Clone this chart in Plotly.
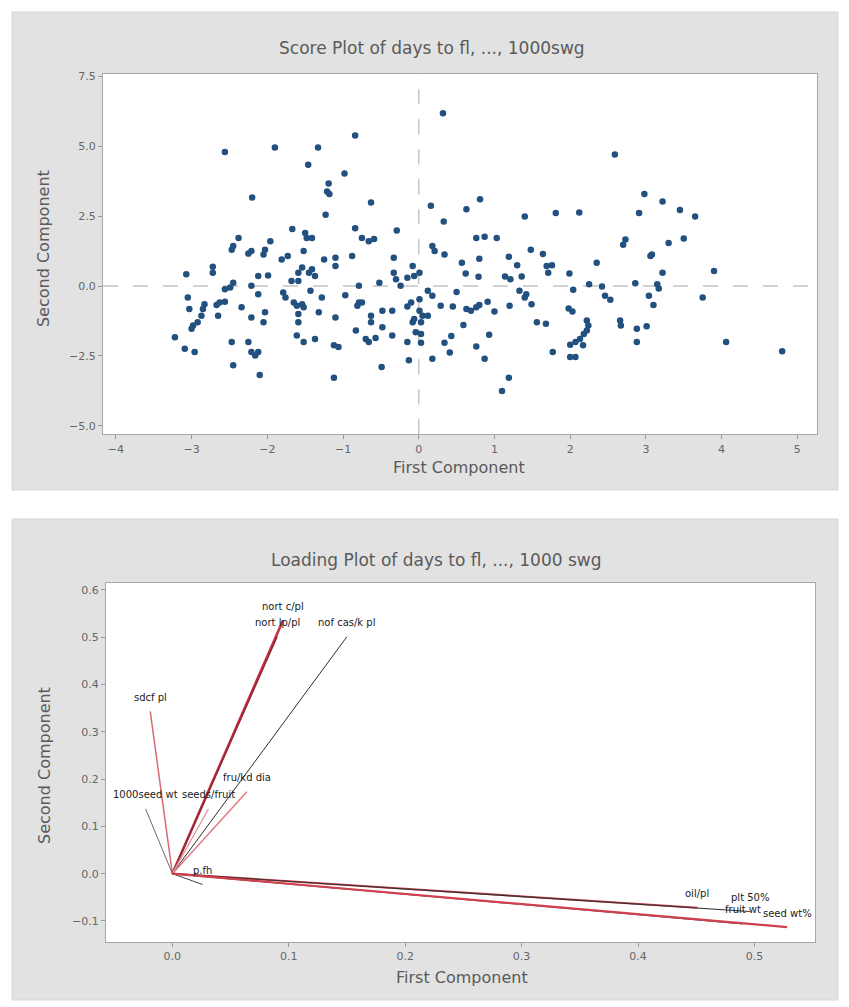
import plotly.graph_objects as go

W, H = 849, 1007      # browser window
OFF = 8               # default page body margin
FW, FH = W - OFF, H - OFF

# ---------------- data ----------------
score_pc1 = [
    -2.56, -1.90, -1.33, -0.84, -1.46, -0.98, -1.19, -1.21, -1.18, -2.20, -0.63, 0.16, -1.23, -0.84, -0.29,
    -1.67, -1.50, -1.41, -1.48, -2.38, -2.45, -2.47, -1.96, -2.03, -2.05, -2.21, -2.25, -0.75, -0.66, -0.59,
    0.18, 0.21, -1.52, -1.73, -1.81, -1.10, -1.10, -0.88, -1.25, -0.33, -2.72, -2.72, -3.07, -1.54, -1.41,
    -1.37, -1.45, -1.59, -2.12, -1.99, -0.08, 0.01, -0.06, -0.15, -0.33, -0.30, -0.24, -2.45, -2.49, -2.56,
    -2.21, -1.68, -1.59, -1.43, -0.52, -0.79, -1.79, -1.76, -2.12, -3.05, -1.28, -0.97, 0.12, 0.18, 0.01,
    -0.10, -0.15, -2.63, -2.56, -2.67, -2.83, -2.85, -2.87, -3.03, -2.34, -1.65, -1.54, -1.52, -1.61, -0.79,
    -0.75, -0.81, -0.48, -0.35, 0.01, 0.05, 0.12, -0.06, -0.08, 0.03, -2.03, -2.05, -2.21, -2.65, -1.59,
    -1.59, -1.32, -1.10, -0.63, -0.63, -2.92, -2.98, -3.00, -0.48, -0.35, -0.83, -0.70, -0.66, -0.57, -0.04,
    0.03, -0.15, 0.03, -3.22, -1.61, -1.52, -1.37, -2.47, -2.25, -1.12, -1.06, -3.09, -2.96, -2.21, -2.16,
    -2.12, 0.18, -0.13, -2.45, -2.10, -1.12, -0.49,
    0.32, 2.59, 2.98, 3.22, 3.45, 3.65, 2.91, 0.81, 0.63, 1.40, 1.81, 2.12, 0.33, 0.76, 0.87,
    1.03, 2.73, 2.70, 3.30, 3.50, 3.08, 3.06, 0.34, 0.80, 0.57, 1.19, 1.30, 1.48, 1.64, 2.35,
    1.69, 1.76, 1.71, 0.62, 0.79, 1.14, 1.21, 1.36, 1.99, 3.22, 3.90, 2.25, 2.42, 2.86, 3.15,
    3.17, 1.33, 1.42, 1.40, 2.04, 0.50, 2.46, 2.53, 3.04, 3.75, 0.29, 0.45, 0.63, 0.69, 0.76,
    0.80, 0.91, 1.00, 1.20, 1.49, 1.98, 2.03, 3.10, 2.22, 2.24, 2.22, 2.18, 2.13, 2.07, 2.00,
    2.17, 1.56, 1.68, 2.66, 2.67, 2.88, 3.01, 0.59, 0.93, 0.43, 0.34, 0.41, 0.76, 2.88, 4.06,
    1.77, 2.00, 2.07, 0.87, 1.19, 1.10, 4.80,
]
score_pc2 = [
    4.79, 4.95, 4.95, 5.38, 4.34, 4.02, 3.67, 3.38, 3.29, 3.17, 2.99, 2.87, 2.55, 2.07, 1.99,
    2.04, 1.90, 1.72, 1.72, 1.72, 1.43, 1.30, 1.60, 1.30, 1.13, 1.25, 1.16, 1.72, 1.60, 1.68,
    1.43, 1.25, 1.25, 1.07, 0.95, 1.01, 0.72, 1.07, 0.95, 1.01, 0.69, 0.48, 0.42, 0.66, 0.60,
    0.36, 0.48, 0.48, 0.36, 0.38, 0.72, 0.48, 0.36, 0.30, 0.48, 0.24, 0.01, 0.12, -0.05, -0.11,
    0.01, 0.18, 0.18, -0.17, 0.12, 0.01, -0.23, -0.41, -0.29, -0.41, -0.41, -0.33, -0.17, -0.35, -0.47,
    -0.59, -0.73, -0.59, -0.56, -0.68, -0.65, -0.82, -1.06, -0.82, -0.76, -0.59, -0.65, -0.76, -0.70, -0.59,
    -0.59, -0.70, -0.88, -0.88, -0.88, -1.06, -1.06, -1.18, -1.29, -1.29, -0.94, -1.29, -1.12, -1.06, -1.00,
    -1.29, -0.94, -1.12, -1.06, -1.29, -1.29, -1.41, -1.53, -1.47, -1.77, -1.59, -1.89, -2.00, -1.86, -1.65,
    -1.71, -2.00, -2.03, -1.83, -1.77, -2.00, -1.89, -2.00, -2.00, -2.12, -2.18, -2.24, -2.36, -2.36, -2.48,
    -2.36, -2.60, -2.65, -2.83, -3.18, -3.28, -2.89,
    6.18, 4.70, 3.29, 3.02, 2.72, 2.49, 2.61, 3.10, 2.75, 2.49, 2.61, 2.63, 2.31, 1.72, 1.76,
    1.72, 1.66, 1.48, 1.54, 1.70, 1.13, 1.07, 1.13, 0.98, 0.83, 1.05, 0.74, 1.30, 1.15, 0.83,
    0.72, 0.74, 0.48, 0.45, 0.33, 0.34, 0.24, 0.34, 0.45, 0.48, 0.54, 0.06, -0.02, 0.10, 0.06,
    -0.09, -0.17, -0.29, -0.41, -0.13, -0.21, -0.35, -0.49, -0.35, -0.41, -0.70, -0.73, -0.82, -0.88, -0.76,
    -0.68, -0.56, -0.91, -0.70, -0.65, -0.80, -0.91, -0.68, -1.23, -1.41, -1.59, -1.71, -1.89, -2.00, -2.10,
    -2.12, -1.29, -1.35, -1.23, -1.41, -1.53, -1.44, -1.39, -1.74, -1.79, -2.03, -2.38, -2.16, -2.00, -2.00,
    -2.36, -2.54, -2.54, -2.60, -3.28, -3.75, -2.33,
]

load_names = ["sdcf pl", "nort c/pl", "nort lp/pl", "nof cas/k pl", "fru/kd dia",
              "1000seed wt", "seeds/fruit", "p.fh", "oil/pl", "plt 50%", "fruit wt", "seed wt%"]
load_pc1 = [-0.019, 0.095, 0.090, 0.150, 0.064, -0.023, 0.031, 0.026, 0.451, 0.496, 0.490, 0.528]
load_pc2 = [0.343, 0.535, 0.501, 0.501, 0.173, 0.137, 0.137, -0.023, -0.072, -0.080, -0.106, -0.113]

score_xticks = [-4, -3, -2, -1, 0, 1, 2, 3, 4, 5]
score_yticks = [-5.0, -2.5, 0.0, 2.5, 5.0, 7.5]
load_xticks = [0.0, 0.1, 0.2, 0.3, 0.4, 0.5]
load_yticks = [-0.1, 0.0, 0.1, 0.2, 0.3, 0.4, 0.5, 0.6]

score_title = "Score Plot of days to fl, ..., 1000swg"
load_title = "Loading Plot of days to fl, ..., 1000 swg"

# ---------------- styles ----------------
line_colors = ["#d86a75", "#c8303f", "#8a2a34", "#2e2e2e", "#e07a85", "#6a6a6a",
               "#e59aa2", "#444444", "#d0404e", "#333333", "#333333", "#d0404e"]
line_widths = [1.5, 2.6, 1.4, 1.0, 1.5, 1.0, 1.3, 1.0, 2.0, 1.2, 1.3, 2.2]

FONT = "DejaVu Sans, Liberation Sans, Arial, sans-serif"
GRAY_BG = "#e2e2e2"
FRAME = "#a8a8a8"
TXT = "#5a5a5a"


def px_x(p):
    """page pixel (from window left) -> paper fraction"""
    return (p - OFF) / FW


def px_y(p):
    """page pixel (from window top) -> paper fraction"""
    return 1 - (p - OFF) / FH


top_dom_x = [px_x(103), px_x(817)]
top_dom_y = [px_y(432), px_y(70)]
bot_dom_x = [px_x(106), px_x(815)]
bot_dom_y = [px_y(942), px_y(581)]

fig = go.Figure()

# score plot
fig.add_trace(go.Scatter(
    x=score_pc1, y=score_pc2, mode="markers",
    marker=dict(size=6.5, color="#22507f", line=dict(width=0)),
    xaxis="x", yaxis="y", showlegend=False, hoverinfo="x+y"))

# loading plot: one line per variable from the origin
for name, a, b, c, w in zip(load_names, load_pc1, load_pc2, line_colors, line_widths):
    fig.add_trace(go.Scatter(
        x=[0, a], y=[0, b], mode="lines", name=name,
        line=dict(color=c, width=w),
        xaxis="x2", yaxis="y2", showlegend=False, hoverinfo="name"))

axis_common = dict(
    showgrid=False, zeroline=False, showline=True, mirror=True,
    linecolor=FRAME, linewidth=1, ticks="outside", ticklen=4, tickcolor="#999999",
    tickfont=dict(family=FONT, size=11, color="#666666"),
)

annotations = [
    dict(text=score_title, x=px_x(432), y=px_y(44), xref="paper", yref="paper",
         showarrow=False, xanchor="center", yanchor="middle",
         font=dict(family=FONT, size=17, color=TXT)),
    dict(text=load_title, x=px_x(436), y=px_y(558), xref="paper", yref="paper",
         showarrow=False, xanchor="center", yanchor="middle",
         font=dict(family=FONT, size=17, color=TXT)),
    dict(text="First Component", x=px_x(459), y=px_y(465), xref="paper", yref="paper",
         showarrow=False, xanchor="center", yanchor="middle",
         font=dict(family=FONT, size=16, color=TXT)),
    dict(text="Second Component", x=px_x(43), y=px_y(246), xref="paper", yref="paper",
         showarrow=False, xanchor="center", yanchor="middle", textangle=-90,
         font=dict(family=FONT, size=16, color=TXT)),
    dict(text="First Component", x=px_x(462), y=px_y(977), xref="paper", yref="paper",
         showarrow=False, xanchor="center", yanchor="middle",
         font=dict(family=FONT, size=16, color=TXT)),
    dict(text="Second Component", x=px_x(45), y=px_y(765), xref="paper", yref="paper",
         showarrow=False, xanchor="center", yanchor="middle", textangle=-90,
         font=dict(family=FONT, size=16, color=TXT)),
]
# variable labels sit just above the tip of each loading line
for name, a, b in zip(load_names, load_pc1, load_pc2):
    annotations.append(dict(
        text=name, x=a, y=b, xref="x2", yref="y2", showarrow=False,
        xanchor="center", yanchor="middle", yshift=14,
        font=dict(family=FONT, size=10, color="#1a1a1a")))

fig.update_layout(
    width=FW, height=FH,
    margin=dict(l=0, r=0, t=0, b=0),
    paper_bgcolor="white", plot_bgcolor="white",
    font=dict(family=FONT, color=TXT),
    xaxis=dict(domain=top_dom_x, anchor="y", range=[-4.17, 5.26],
               tickmode="array", tickvals=score_xticks, **axis_common),
    yaxis=dict(domain=top_dom_y, anchor="x", range=[-5.30, 7.59],
               tickmode="array", tickvals=score_yticks, tickformat=".1f", **axis_common),
    xaxis2=dict(domain=bot_dom_x, anchor="y2", range=[-0.057, 0.552],
                tickmode="array", tickvals=load_xticks, tickformat=".1f", **axis_common),
    yaxis2=dict(domain=bot_dom_y, anchor="x2", range=[-0.145, 0.615],
                tickmode="array", tickvals=load_yticks, tickformat=".1f", **axis_common),
    shapes=[
        dict(type="rect", xref="paper", yref="paper", layer="below",
             x0=px_x(12), x1=px_x(838), y0=px_y(488), y1=px_y(8),
             fillcolor=GRAY_BG, line=dict(color="#d6d6d6", width=1)),
        dict(type="rect", xref="paper", yref="paper", layer="below",
             x0=px_x(12), x1=px_x(838), y0=px_y(1000), y1=px_y(517),
             fillcolor=GRAY_BG, line=dict(color="#d6d6d6", width=1)),
        dict(type="rect", xref="paper", yref="paper", layer="below",
             x0=top_dom_x[0], x1=top_dom_x[1], y0=top_dom_y[0], y1=top_dom_y[1],
             fillcolor="white", line=dict(width=0)),
        dict(type="rect", xref="paper", yref="paper", layer="below",
             x0=bot_dom_x[0], x1=bot_dom_x[1], y0=bot_dom_y[0], y1=bot_dom_y[1],
             fillcolor="white", line=dict(width=0)),
    ],
    annotations=annotations,
)

# reference lines at zero on the score plot
fig.add_hline(y=0, line=dict(color="#c4c4c4", width=1.5, dash="longdash"), xref="x", yref="y",
              layer="below")
fig.add_vline(x=0, line=dict(color="#c4c4c4", width=1.5, dash="longdash"), xref="x", yref="y",
              layer="below")

fig.write_html("out.html")
